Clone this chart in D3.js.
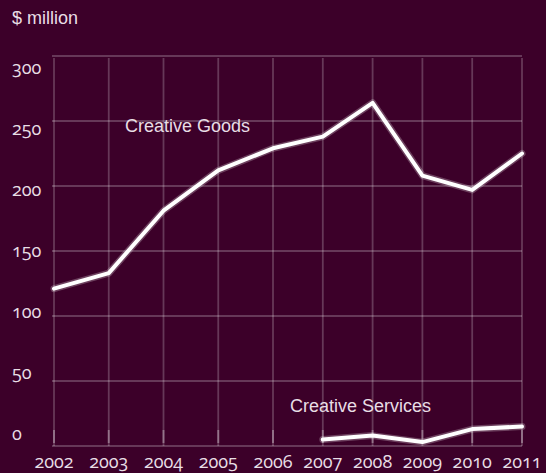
<!DOCTYPE html>
<html>
<head>
<meta charset="utf-8">
<script src="https://cdn.jsdelivr.net/npm/d3@7"></script>
<style>
  html, body { margin: 0; padding: 0; background: #3c0029; }
  svg { display: block; }
  .tick-label { font-family: "Open Sans", "Noto Sans", sans-serif; font-size: 18px; fill: #e8dee5; font-variant-numeric: oldstyle-nums; font-feature-settings: "onum" 1; }
  .anno { font-family: "Liberation Sans", Arial, sans-serif; font-size: 18px; fill: #e8dee5; }
</style>
</head>
<body>
<div id="chart"></div>
<script>
const years = [2002, 2003, 2004, 2005, 2006, 2007, 2008, 2009, 2010, 2011];
const yTicks = [0, 50, 100, 150, 200, 250, 300];
const goods = [121, 133, 181, 212, 229, 238, 264, 208, 197, 225];
const servicesYears = [2007, 2008, 2009, 2010, 2011];
const services = [5, 8, 3, 13, 15];
const unitLabel = "$ million";
const goodsLabel = "Creative Goods";
const servicesLabel = "Creative Services";

const W = 546, H = 473;
const svg = d3.select("#chart").append("svg").attr("width", W).attr("height", H);
svg.append("rect").attr("width", W).attr("height", H).attr("fill", "#3c0029");

const x = d3.scaleLinear().domain([2002, 2006, 2011]).range([54, 273, 522]);
const y = d3.scaleLinear().domain([0, 300]).range([446, 56]);
const yLabel = d3.scaleLinear().domain([0, 300]).range([440, 74]);

const grid = svg.append("g");
grid.selectAll("line.h").data(yTicks).join("line")
  .attr("class", "h")
  .attr("x1", x(2002) - 2).attr("x2", x(2011))
  .attr("y1", d => y(d)).attr("y2", d => y(d))
  .attr("stroke", "#ffffff").attr("stroke-opacity", 0.22).attr("stroke-width", 1.8);
grid.selectAll("line.v").data(years).join("line")
  .attr("class", "v")
  .attr("x1", d => x(d)).attr("x2", d => x(d))
  .attr("y1", y(300) + 2).attr("y2", y(0))
  .attr("stroke", "#ffffff").attr("stroke-opacity", 0.22).attr("stroke-width", 1.8);
grid.selectAll("line.t").data(years).join("line")
  .attr("class", "t")
  .attr("x1", d => x(d)).attr("x2", d => x(d))
  .attr("y1", y(0) - 16).attr("y2", y(0) - 3)
  .attr("stroke", "#ffffff").attr("stroke-opacity", 0.3).attr("stroke-width", 2);

svg.append("g").selectAll("text").data(yTicks).join("text")
  .attr("class", "tick-label")
  .attr("x", 12).attr("y", d => yLabel(d))
  .text(d => d);
svg.append("g").selectAll("text").data(years).join("text")
  .attr("class", "tick-label")
  .attr("text-anchor", "middle")
  .attr("x", d => Math.min(x(d), 526)).attr("y", 468)
  .text(d => d);

svg.append("text").attr("class", "anno").attr("x", 12).attr("y", 24).text(unitLabel);

const line = d3.line().x(d => x(d[0])).y(d => y(d[1]));
const goodsData = years.map((yr, i) => [yr, goods[i]]);
const servData = servicesYears.map((yr, i) => [yr, services[i]]);

[goodsData, servData].forEach(data => {
  svg.append("path").datum(data).attr("d", line)
    .attr("fill", "none").attr("stroke", "#ffffff").attr("stroke-opacity", 0.25)
    .attr("stroke-width", 7).attr("stroke-linejoin", "round").attr("stroke-linecap", "round");
  svg.append("path").datum(data).attr("d", line)
    .attr("fill", "none").attr("stroke", "#ffffff")
    .attr("stroke-width", 4).attr("stroke-linejoin", "round").attr("stroke-linecap", "round");
});

svg.append("text").attr("class", "anno").attr("x", 125).attr("y", 132).text(goodsLabel);
svg.append("text").attr("class", "anno").attr("x", 290).attr("y", 412).text(servicesLabel);
</script>
</body>
</html>
